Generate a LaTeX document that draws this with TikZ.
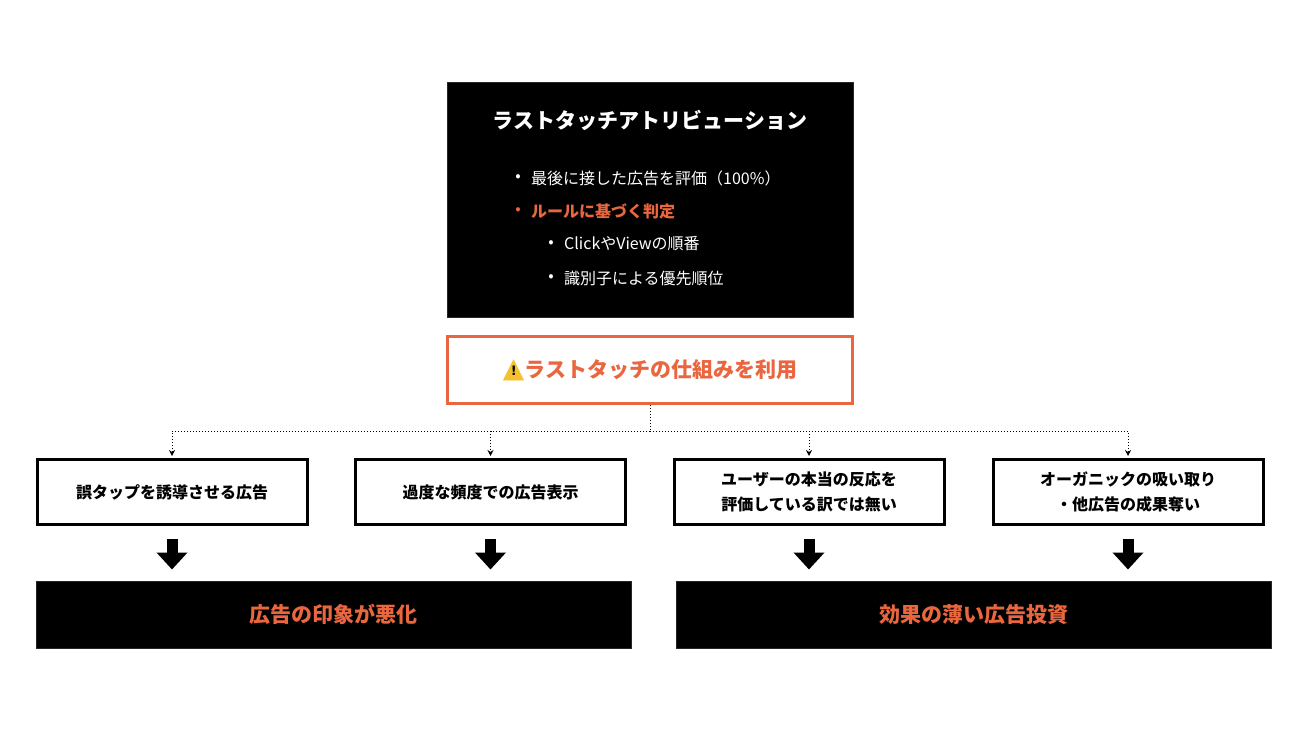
\documentclass[tikz,border=0pt]{standalone}
\usepackage{fontspec}
\setmainfont{Noto Sans CJK JP}
\newfontfamily\symfont{DejaVu Sans}
\usetikzlibrary{arrows.meta}
\definecolor{accent}{HTML}{E9663F}
\definecolor{warnyellow}{HTML}{F5C12E}
\newcommand{\warnsign}{\ooalign{\textcolor{warnyellow}{\symfont\fontsize{28}{30}\selectfont ▲}\cr
    \hidewidth\raisebox{2pt}{\textcolor{black}{\symfont\fontsize{13}{15}\selectfont\bfseries !}}\hidewidth\cr}}
\begin{document}
\begin{tikzpicture}[x=1pt, y=-1pt,
    blackbox/.style={fill=black, draw=black!85, line width=1pt, inner sep=0pt},
    causebox/.style={draw=black, line width=3pt, fill=white, minimum width=270pt,
        minimum height=65pt, align=center, font=\fontsize{16}{25}\selectfont\bfseries},
    resulttext/.style={text=accent, font=\fontsize{21}{26}\selectfont\bfseries},
    bullettext/.style={anchor=west, inner sep=0pt, text=white, font=\fontsize{16}{20}\selectfont},
    bulletdot/.style={inner sep=0pt, text=white, font=\fontsize{16}{20}\selectfont},
    dotarrow/.style={dash pattern=on 1pt off 2pt, line width=1pt, black,
        -{Stealth[length=6pt,width=6pt]}, shorten >=2pt},
    bigarrow/.style={line width=11pt, -{Triangle[width=30pt,length=17pt]},
        shorten <=13pt, shorten >=11pt}]
    \useasboundingbox (0,0) rectangle (1300,731);

    \node[blackbox, minimum width=406pt, minimum height=235pt] (rule) at (650,199.5) {};
    \node[text=white, font=\fontsize{21}{26}\selectfont\bfseries] (title) at (650,120)
        {ラストタッチアトリビューション};

    \node[bulletdot] (dot1) at (518,178) {•};
    \node[bullettext] (item1) at (531,178) {最後に接した広告を評価（100\%）};
    \node[bulletdot, text=accent] (dot2) at (518,211) {•};
    \node[bullettext, text=accent, font=\fontsize{16}{20}\selectfont\bfseries] (item2) at (531,211)
        {ルールに基づく判定};
    \node[bulletdot] (dot3) at (551,244) {•};
    \node[bullettext] (item3) at (564,244) {ClickやViewの順番};
    \node[bulletdot] (dot4) at (551,278) {•};
    \node[bullettext] (item4) at (564,278) {識別子による優先順位};

    \node[draw=accent, line width=3pt, fill=white, minimum width=405pt, minimum height=67pt,
        resulttext] (warn) at (650,370)
        {\warnsign ラストタッチの仕組みを利用};

    \coordinate (fork) at (650,431);
    \draw[dash pattern=on 1pt off 2pt, line width=1pt, black] (warn.south) -- (fork);

    \node[blackbox, minimum width=595pt, minimum height=67pt, resulttext] (bad) at (333.5,614.5)
        {広告の印象が悪化};
    \node[blackbox, minimum width=595pt, minimum height=67pt, resulttext] (waste) at (973.5,614.5)
        {効果の薄い広告投資};

    \foreach \n/\x/\r/\t in {cause1/172/bad/{誤タップを誘導させる広告},
        cause2/490.5/bad/{過度な頻度での広告表示},
        cause3/809/waste/{ユーザーの本当の反応を\\評価している訳では無い},
        cause4/1128/waste/{オーガニックの吸い取り\\・他広告の成果奪い}}
    {
        \node[causebox] (\n) at (\x,492) {\t};
        \draw[dotarrow] (fork) -| (\n.north);
        \draw[bigarrow] (\n.south) -- (\n.south |- \r.north);
    }

\end{tikzpicture}
\end{document}
